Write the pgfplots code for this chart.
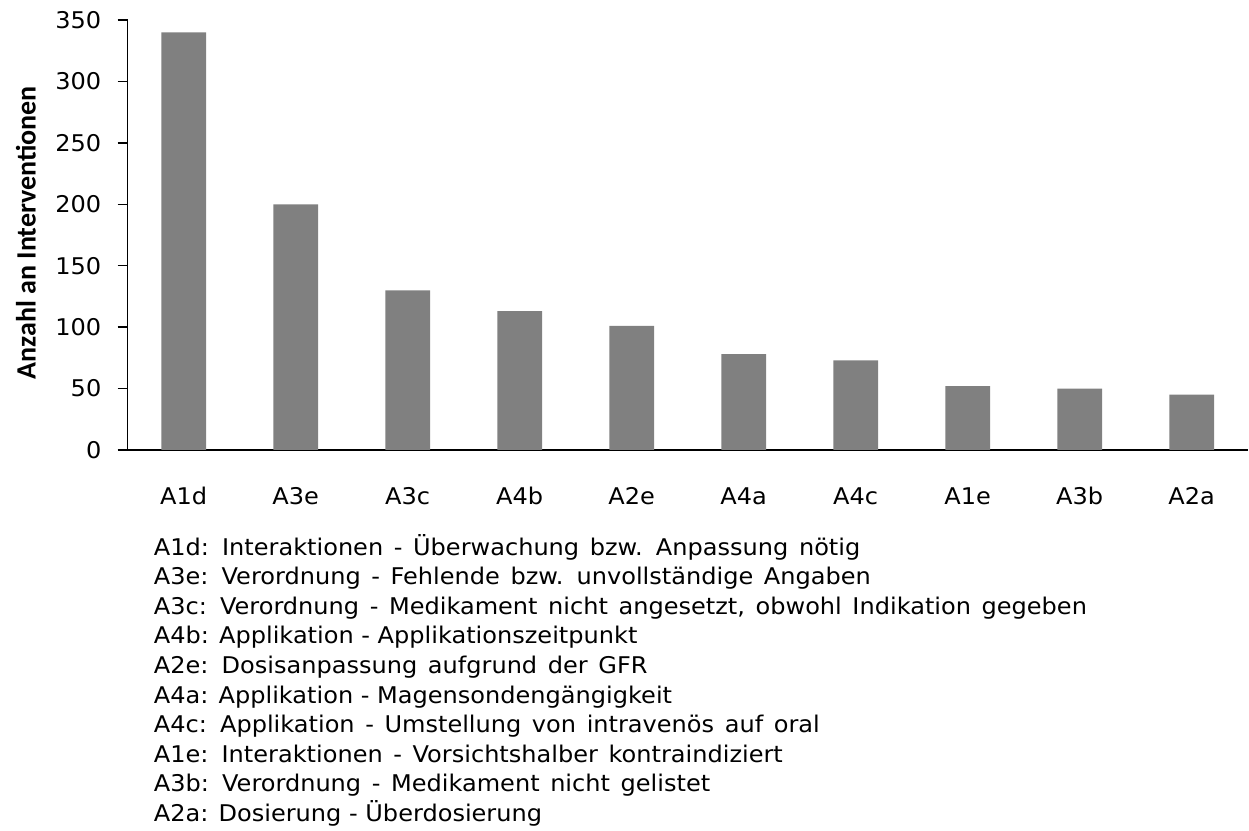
\documentclass[border=0pt]{standalone}
\usepackage{pgfplots}
\pgfplotsset{compat=1.18}
\usepackage{fontspec}
\setmainfont[FakeStretch=1.045]{DejaVu Sans}
\newfontfamily\labfont{Carlito}
\definecolor{bargray}{RGB}{128,128,128}
\newcommand\wsp{\spaceskip 5.3bp\relax}

\begin{document}
\begin{tikzpicture}
% 1 px of the reference = 0.5bp
\useasboundingbox (0,0) rectangle (624.5bp,415.5bp);
\begin{axis}[
    at={(63.85bp,190.5bp)}, anchor=south west,
    scale only axis,
    width=560bp, height=215bp,
    xmin=-0.5, xmax=9.5,
    ymin=0, ymax=350,
    axis lines=left,
    axis line style={-, line width=0.7pt},
    xtick=data,
    xticklabels={A1d,A3e,A3c,A4b,A2e,A4a,A4c,A1e,A3b,A2a},
    x tick style={draw=none},
    ytick={0,50,...,350},
    tick align=outside,
    major tick length=5bp,
    y tick style={line width=0.7pt, black},
    /pgf/number format/assume math mode=true,
    tick label style={font=\fontsize{11.5bp}{14bp}\selectfont},
    xticklabel style={anchor=base, yshift=-22.5bp},
    yticklabel style={anchor=east, inner sep=0pt, xshift=-8bp},
    ylabel={Anzahl an Interventionen},
    ylabel style={at={(axis description cs:-0.0908,0.505)}, rotate=0, anchor=center,
      font=\labfont\bfseries\fontsize{14bp}{16bp}\selectfont},
    clip=false,
]
\addplot[ybar, bar width=0.4, fill=bargray, draw=none] coordinates {
  (0,340) (1,200) (2,130) (3,113) (4,101) (5,78) (6,73) (7,52) (8,50) (9,45)
};
\end{axis}
\begin{scope}[x=0.5bp, y=0.5bp,
    every node/.style={anchor=base west, inner sep=0pt, font=\fontsize{11.5bp}{14bp}\selectfont}]
\node at (153.5,831-555.0) {\wsp A1d: Interaktionen - Überwachung bzw. Anpassung nötig};
\node at (153.5,831-584.6) {\wsp A3e: Verordnung - Fehlende bzw. unvollständige Angaben};
\node at (153.5,831-614.2) {\wsp A3c: Verordnung - Medikament nicht angesetzt, obwohl Indikation gegeben};
\node at (153.5,831-643.8) {A4b: Applikation - Applikationszeitpunkt};
\node at (153.5,831-673.4) {\wsp A2e: Dosisanpassung aufgrund der GFR};
\node at (153.5,831-703.0) {A4a: Applikation - Magensondengängigkeit};
\node at (153.5,831-732.6) {\wsp A4c: Applikation - Umstellung von intravenös auf oral};
\node at (153.5,831-762.2) {\wsp A1e: Interaktionen - Vorsichtshalber kontraindiziert};
\node at (153.5,831-791.8) {\wsp A3b: Verordnung - Medikament nicht gelistet};
\node at (153.5,831-821.4) {A2a: Dosierung - Überdosierung};
\end{scope}
\end{tikzpicture}
\end{document}
